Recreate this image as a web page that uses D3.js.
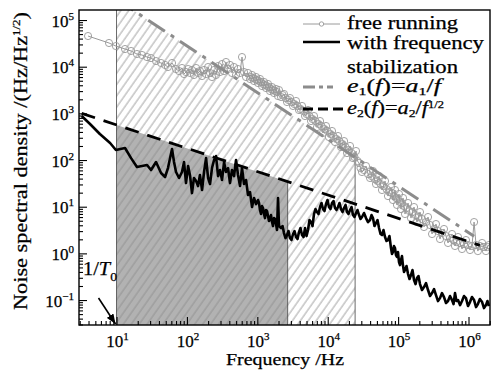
<!DOCTYPE html>
<html>
<head>
<meta charset="utf-8">
<script src="https://cdn.jsdelivr.net/npm/d3@7/dist/d3.min.js"></script>
<style>
  body { margin: 0; background: #fff; }
  svg { display: block; font-family: "Liberation Serif", "Times New Roman", serif; }
  svg text { stroke: #000; stroke-width: 0.25px; }
</style>
</head>
<body>
<svg id="chart" width="500" height="376"></svg>
<script>
// free running laser: [frequency Hz, noise Hz/Hz^1/2]
const freeRunning = [
  [3.94, 45400], [7.82, 32200], [9.8, 27700], [13.2, 23900], [16.1, 21700], [19.5, 18700],
  [23, 17800], [27.1, 16100], [30.9, 15300], [36.4, 13200], [42.9, 12000], [48.9, 10900],
  [53.8, 9840], [61.4, 12000], [70, 8910], [77.3, 8070], [85.1, 9370], [91, 6970],
  [97, 7690], [104, 8910], [111, 7330], [118, 8490], [126, 6640], [135, 9370],
  [144, 7330], [153, 8070], [164, 6310], [175, 8490], [187, 6970], [200, 9840],
  [213, 7330], [227, 6010], [243, 8490], [259, 6640], [277, 10300], [295, 7690],
  [315, 11400], [337, 8070], [359, 12600], [384, 8910], [409, 10900], [437, 7330],
  [467, 9840], [498, 6640], [532, 8910], [568, 7330], [606, 16100], [647, 7690],
  [691, 6010], [738, 7330], [788, 5450], [814, 6010], [841, 6640], [869, 5720],
  [898, 4930], [928, 5450], [959, 6010], [991, 5180], [1023, 4470], [1057, 4930],
  [1092, 5450], [1128, 4700], [1167, 3850], [1205, 4260], [1245, 4700], [1286, 4050],
  [1330, 3490], [1374, 3850], [1419, 4260], [1466, 3660], [1514, 3010], [1564, 3330],
  [1618, 3660], [1670, 3160], [1726, 2730], [1783, 3010], [1845, 3330], [1904, 2870],
  [1968, 2350], [2032, 3160], [2173, 2240], [2282, 2470], [2393, 2600], [2513, 2130],
  [2642, 1750], [2774, 1930], [2911, 2130], [3057, 1750], [3214, 1440], [3375, 1580],
  [3548, 1840], [3725, 1440], [3908, 1180], [4103, 1240], [4315, 1440], [4531, 1120],
  [4764, 877], [5002, 968], [5248, 1180], [5510, 877], [5794, 685], [6084, 757],
  [6383, 877], [6702, 685], [7047, 509], [7399, 592], [7780, 685], [8169, 536],
  [8570, 379], [8999, 461], [9462, 536], [9935, 419], [10420, 311], [10940, 361],
  [11510, 419], [12090, 327], [12700, 243], [13340, 282], [14000, 327], [14700, 255],
  [15450, 190], [16220, 220], [17060, 255], [17910, 190], [18790, 141], [19730, 164],
  [20750, 200], [21790, 141], [22860, 110], [24000, 116], [25230, 156], [26490, 95.3],
  [27860, 86.3], [29250, 67.4], [30690, 55.4], [32780, 61.1], [34990, 74.4], [37370, 50.1],
  [39900, 41.2], [41900, 45.4], [43950, 58.2], [46150, 39.2], [48530, 30.6], [50960, 35.5],
  [53580, 45.4], [56260, 30.6], [59020, 22.8], [61970, 27.7], [65160, 35.5], [68420, 23.9],
  [71780, 16.9], [75370, 20.6], [79250, 26.4], [81950, 19.6], [84530, 13.9], [87320, 16.9],
  [90360, 22.8], [93340, 15.4], [96380, 10.9], [99560, 14.6], [103000, 18.7], [106400, 12.6],
  [109900, 8.91], [113500, 12.0], [117500, 15.4], [121400, 10.3], [125300, 6.97], [131600, 9.37],
  [138400, 12.0], [145300, 8.07], [152400, 5.71], [160000, 7.69], [168300, 9.84], [176700, 6.63],
  [185400, 4.69], [194700, 6.01], [204600, 7.69], [218500, 5.45], [233300, 3.67], [249200, 4.69],
  [266100, 6.01], [284200, 4.05], [303400, 2.60], [324000, 3.33], [345100, 4.25], [368600, 3.01],
  [393600, 2.03], [420400, 2.73], [448700, 3.33], [479200, 2.35], [511700, 1.67], [546500, 2.13],
  [583400, 2.60], [612600, 1.93], [642700, 1.44], [674800, 1.75], [709600, 2.24], [757900, 1.67],
  [809100, 1.24], [864100, 1.58], [920400, 1.93], [983000, 1.51], [1.05e6, 1.18], [1.12e6, 1.44],
  [1.2e6, 4.69], [1.28e6, 1.51], [1.36e6, 1.12], [1.45e6, 1.44], [1.56e6, 1.67], [1.66e6, 1.37],
  [1.77e6, 1.12], [1.86e6, 1.37], [1.95e6, 1.51]
];

// with frequency stabilization
const stabilized = [
  [3.2, 877], [4.2, 592], [5.8, 361], [8.1, 232], [9.8, 164], [13.2, 181], [16.1, 110],
  [19.5, 70.8], [23, 74.4], [27.1, 78.2], [30.9, 61.1], [36.4, 90.6], [42.9, 52.7],
  [48.9, 43.3], [53.8, 67.4], [61.4, 172], [65.6, 90.6], [70, 55.4], [77.3, 41.2],
  [85.1, 55.4], [91, 90.6], [97, 32.1], [104, 74.4], [111, 45.4], [118, 19.6], [126, 41.2],
  [135, 35.5], [144, 27.7], [153, 47.7], [164, 22.8], [175, 55.4], [187, 110], [200, 41.2],
  [213, 30.6], [227, 67.4], [243, 100], [259, 122], [277, 45.4], [295, 61.1], [315, 37.3],
  [337, 90.6], [359, 55.4], [384, 67.4], [409, 32.1], [437, 61.1], [467, 45.4], [498, 100],
  [532, 47.7], [568, 27.7], [606, 67.4], [647, 30.6], [691, 37.3], [738, 17.8], [788, 20.6],
  [841, 9.84], [898, 15.4], [959, 11.4], [1023, 13.9], [1057, 12.0], [1092, 8.49],
  [1128, 6.97], [1167, 10.3], [1205, 9.37], [1245, 6.97], [1286, 5.71], [1330, 8.49],
  [1374, 8.07], [1419, 6.31], [1466, 4.93], [1514, 5.71], [1564, 6.63], [1618, 4.69],
  [1670, 3.85], [1726, 5.71], [1783, 5.45], [1845, 4.25], [1904, 3.16], [1968, 15.4],
  [2032, 3.85], [2173, 3.49], [2282, 3.85], [2393, 2.73], [2513, 2.13], [2642, 2.47],
  [2774, 3.01], [2911, 2.13], [3057, 1.93], [3214, 2.60], [3375, 3.01], [3548, 2.24],
  [3725, 2.03], [3908, 2.86], [4103, 3.49], [4315, 2.47], [4531, 2.24], [4764, 3.49],
  [5002, 2.35], [5248, 3.16], [5510, 5.18], [5794, 4.69], [6084, 3.85], [6383, 6.97],
  [6702, 8.91], [7047, 7.69], [7399, 6.97], [7780, 9.84], [8169, 12.0], [8570, 8.91],
  [8999, 8.07], [9462, 11.4], [9935, 13.9], [10420, 9.84], [10940, 8.91], [11510, 12.0],
  [12090, 13.2], [12700, 9.37], [13340, 8.49], [14000, 9.84], [14700, 12.0], [15450, 8.91],
  [16220, 7.69], [17060, 9.37], [17910, 10.9], [18790, 7.69], [19730, 6.97], [20750, 8.49],
  [21790, 9.84], [22860, 6.63], [24000, 6.01], [25230, 7.33], [26490, 8.49], [27860, 6.63],
  [29250, 5.45], [30690, 6.01], [32780, 7.33], [34990, 5.71], [37370, 4.69], [39900, 5.18],
  [41900, 6.63], [43950, 5.71], [46150, 3.85], [48530, 4.47], [50960, 5.18], [53580, 3.49],
  [56260, 2.60], [59020, 2.47], [61970, 3.16], [65160, 2.24], [68420, 1.84], [71780, 1.93],
  [75370, 2.35], [79250, 1.30], [81950, 0.968], [84530, 1.07], [87320, 1.44], [90360, 1.30],
  [93340, 0.92], [96380, 0.836], [99560, 1.07], [103000, 0.653], [106400, 0.562], [109900, 0.72],
  [113500, 0.877], [117500, 0.536], [121400, 0.398], [125300, 0.44], [131600, 0.536],
  [138400, 0.361], [145300, 0.282], [152400, 0.344], [160000, 0.44], [168300, 0.268],
  [176700, 0.22], [185400, 0.296], [194700, 0.327], [204600, 0.22], [218500, 0.164],
  [233300, 0.19], [249200, 0.231], [266100, 0.164], [284200, 0.122], [303400, 0.141],
  [324000, 0.172], [345100, 0.128], [368600, 0.0952], [393600, 0.110], [420400, 0.141],
  [448700, 0.116], [479200, 0.0863], [511700, 0.0952], [546500, 0.122], [583400, 0.100],
  [612600, 0.082], [642700, 0.141], [674800, 0.0952], [709600, 0.100], [757900, 0.078],
  [809100, 0.0952], [864100, 0.122], [920400, 0.110], [983000, 0.0744], [1.05e6, 0.0906],
  [1.12e6, 0.116], [1.2e6, 0.100], [1.28e6, 0.0708], [1.36e6, 0.082], [1.45e6, 0.105],
  [1.56e6, 0.0906], [1.66e6, 0.0674], [1.77e6, 0.078], [1.86e6, 0.0952], [1.95e6, 0.0744]
];

// fitted asymptotes e1 = a1/f, e2 = a2/f^(1/2)
const a1 = 2.8e6;
const a2 = 1.79e3;
const e1Span = [10, 1.2e6];
const e2Span = [3.2, 1.45e6];

// shaded bands: 1/T0 up to grayEnd (under e2), 1/T0 up to hatchEnd (under e1)
const invT0 = 10;
const grayEnd = 2700;
const hatchEnd = 24500;

const xDecades = [1, 2, 3, 4, 5, 6];
const yDecades = [-1, 0, 1, 2, 3, 4, 5];

const box = { left: 79, right: 490, top: 10, bottom: 325 };

const svg = d3.select('#chart');
const x = d3.scaleLog().domain([2.93, 2.02e6]).range([box.left, box.right]);
const y = d3.scaleLog().domain([0.0292, 1.64e5]).range([box.bottom, box.top]);
const e1 = (f) => a1 / f;
const e2 = (f) => a2 / Math.sqrt(f);

const defs = svg.append('defs');
defs.append('clipPath').attr('id', 'plot-clip')
  .append('rect')
  .attr('x', box.left).attr('y', box.top)
  .attr('width', box.right - box.left).attr('height', box.bottom - box.top);

defs.append('pattern')
  .attr('id', 'hatch')
  .attr('patternUnits', 'userSpaceOnUse')
  .attr('width', 6.5).attr('height', 10)
  .attr('patternTransform', 'rotate(35)')
  .append('line')
  .attr('x1', 1).attr('y1', 0).attr('x2', 1).attr('y2', 10)
  .attr('stroke', '#8a8a8a')
  .attr('stroke-width', 0.8);

defs.append('marker')
  .attr('id', 'arrow-head')
  .attr('viewBox', '0 -4 10 8')
  .attr('refX', 10).attr('refY', 0)
  .attr('markerWidth', 10).attr('markerHeight', 8)
  .attr('markerUnits', 'userSpaceOnUse')
  .attr('orient', 'auto')
  .append('path')
  .attr('d', 'M0,-4L10,0L0,4Z')
  .attr('fill', '#000');

const plot = svg.append('g').attr('clip-path', 'url(#plot-clip)');
const pt = (f, v) => `${x(f)},${y(v)}`;
const yMin = y.domain()[0];

plot.append('polygon')
  .attr('points', [pt(invT0, yMin), pt(invT0, e2(invT0)), pt(grayEnd, e2(grayEnd)), pt(grayEnd, yMin)].join(' '))
  .attr('fill', '#b2b2b2');

plot.append('polygon')
  .attr('points', [pt(invT0, yMin), pt(invT0, e1(invT0)), pt(hatchEnd, e1(hatchEnd)), pt(hatchEnd, yMin)].join(' '))
  .attr('fill', 'url(#hatch)');

const guides = [
  [invT0, y.domain()[1]],
  [grayEnd, e2(grayEnd)],
  [hatchEnd, e1(hatchEnd) * 1.3]
];
plot.selectAll('line.guide')
  .data(guides)
  .join('line')
  .attr('class', 'guide')
  .attr('x1', (d) => x(d[0])).attr('x2', (d) => x(d[0]))
  .attr('y1', box.bottom).attr('y2', (d) => y(d[1]))
  .attr('stroke', '#444')
  .attr('stroke-width', 0.8);

const line = d3.line().x((d) => x(d[0])).y((d) => y(d[1]));

plot.append('path')
  .datum(freeRunning)
  .attr('d', line)
  .attr('fill', 'none')
  .attr('stroke', '#9a9a9a')
  .attr('stroke-width', 1);

plot.selectAll('circle.free')
  .data(freeRunning)
  .join('circle')
  .attr('class', 'free')
  .attr('cx', (d) => x(d[0]))
  .attr('cy', (d) => y(d[1]))
  .attr('r', 3.6)
  .attr('fill', 'none')
  .attr('stroke', '#999')
  .attr('stroke-width', 0.9);

plot.append('path')
  .datum(e1Span.map((f) => [f, e1(f)]))
  .attr('d', line)
  .attr('fill', 'none')
  .attr('stroke', '#8c8c8c')
  .attr('stroke-width', 3)
  .attr('stroke-dasharray', '20,7,4,7');

plot.append('path')
  .datum(stabilized)
  .attr('d', line)
  .attr('fill', 'none')
  .attr('stroke', '#000')
  .attr('stroke-width', 2.6)
  .attr('stroke-linejoin', 'round');

plot.append('path')
  .datum(e2Span.map((f) => [f, e2(f)]))
  .attr('d', line)
  .attr('fill', 'none')
  .attr('stroke', '#000')
  .attr('stroke-width', 2.8)
  .attr('stroke-dasharray', '14,9');

// axes: ticks point inward, minor ticks shorter
const xMajor = xDecades.map((e) => 10 ** e);
const yMajor = yDecades.map((e) => 10 ** e);
const isDecade = (v) => Math.abs(Math.log10(v) - Math.round(Math.log10(v))) < 1e-6;
const xMinor = x.ticks().filter((v) => !isDecade(v));
const yMinor = y.ticks().filter((v) => !isDecade(v));

function styleAxis(g) {
  g.select('.domain').remove();
  g.selectAll('.tick line').attr('stroke', '#000').attr('stroke-width', 1.1);
}

svg.append('g').attr('transform', `translate(0,${box.bottom})`)
  .call(d3.axisBottom(x).tickValues(xMinor).tickSize(-4).tickFormat(''))
  .call(styleAxis);
svg.append('g').attr('transform', `translate(0,${box.bottom})`)
  .call(d3.axisBottom(x).tickValues(xMajor).tickSize(-8).tickFormat(''))
  .call(styleAxis);
svg.append('g').attr('transform', `translate(${box.left},0)`)
  .call(d3.axisLeft(y).tickValues(yMinor).tickSize(-4).tickFormat(''))
  .call(styleAxis);
svg.append('g').attr('transform', `translate(${box.left},0)`)
  .call(d3.axisLeft(y).tickValues(yMajor).tickSize(-8).tickFormat(''))
  .call(styleAxis);

svg.append('rect')
  .attr('x', box.left).attr('y', box.top)
  .attr('width', box.right - box.left).attr('height', box.bottom - box.top)
  .attr('fill', 'none')
  .attr('stroke', '#000')
  .attr('stroke-width', 1.4);

function powerLabel(sel, exp) {
  sel.append('tspan').text('10');
  sel.append('tspan').attr('dy', -7).attr('font-size', 11).text(String(exp).replace('-', '\u2212'));
}

xDecades.forEach((e) => {
  svg.append('text')
    .attr('x', x(10 ** e) + 1).attr('y', 347)
    .attr('text-anchor', 'middle')
    .attr('font-size', 17)
    .call(powerLabel, e);
});

yDecades.forEach((e) => {
  svg.append('text')
    .attr('x', 74).attr('y', y(10 ** e) + 6.5)
    .attr('text-anchor', 'end')
    .attr('font-size', 17)
    .call(powerLabel, e);
});

// the original face is wide (Century-like): stretch to the measured widths
svg.append('text')
  .attr('x', 226).attr('y', 365)
  .attr('font-size', 17)
  .attr('textLength', 118)
  .attr('lengthAdjust', 'spacingAndGlyphs')
  .text('Frequency /Hz');

const yTitle = svg.append('text')
  .attr('transform', 'translate(27,310) rotate(-90)')
  .attr('font-size', 19)
  .attr('textLength', 298)
  .attr('lengthAdjust', 'spacingAndGlyphs');
yTitle.append('tspan').text('Noise spectral density /(Hz/Hz');
yTitle.append('tspan').attr('dy', -7).attr('font-size', 11).text('1/2');
yTitle.append('tspan').attr('dy', 7).text(')');

// 1/T0 annotation
const t0 = svg.append('text')
  .attr('x', 83).attr('y', 275)
  .attr('font-size', 18)
  .attr('textLength', 34)
  .attr('lengthAdjust', 'spacingAndGlyphs');
t0.append('tspan').text('1/');
t0.append('tspan').attr('font-style', 'italic').text('T');
t0.append('tspan').attr('dy', 6).attr('font-size', 12).text('0');

svg.append('line')
  .attr('x1', x(invT0) - 18).attr('y1', box.bottom - 27)
  .attr('x2', x(invT0) - 1).attr('y2', box.bottom - 1)
  .attr('stroke', '#000')
  .attr('stroke-width', 1.6)
  .attr('marker-end', 'url(#arrow-head)');

// legend
const legend = svg.append('g').attr('font-size', 18);
const lx0 = 303, lx1 = 340, tx = 347;

function legendText(yPos, width) {
  return legend.append('text')
    .attr('x', tx).attr('y', yPos)
    .attr('textLength', width)
    .attr('lengthAdjust', 'spacingAndGlyphs');
}

legend.append('line')
  .attr('x1', lx0).attr('x2', lx1).attr('y1', 24).attr('y2', 24)
  .attr('stroke', '#9a9a9a').attr('stroke-width', 1);
legend.append('circle')
  .attr('cx', (lx0 + lx1) / 2).attr('cy', 24).attr('r', 2.2)
  .attr('fill', '#fff').attr('stroke', '#999').attr('stroke-width', 0.9);
legendText(29, 111).text('free running');

legend.append('line')
  .attr('x1', lx0).attr('x2', lx1).attr('y1', 42).attr('y2', 42)
  .attr('stroke', '#000').attr('stroke-width', 2.6);
legendText(49, 137).text('with frequency');
legendText(72.5, 111).text('stabilization');

legend.append('line')
  .attr('x1', lx0).attr('x2', lx1 - 7).attr('y1', 87).attr('y2', 87)
  .attr('stroke', '#8c8c8c').attr('stroke-width', 3)
  .attr('stroke-dasharray', '12,4,4,4');
const e1Text = legendText(91.5, 94);
e1Text.append('tspan').attr('font-style', 'italic').text('e');
e1Text.append('tspan').attr('dy', 3).attr('font-size', 11).text('1');
e1Text.append('tspan').attr('dy', -3).text('(');
e1Text.append('tspan').attr('font-style', 'italic').text('f');
e1Text.append('tspan').text(')=');
e1Text.append('tspan').attr('font-style', 'italic').text('a');
e1Text.append('tspan').attr('dy', 3).attr('font-size', 11).text('1');
e1Text.append('tspan').attr('dy', -3).text('/');
e1Text.append('tspan').attr('font-style', 'italic').text('f');

legend.append('line')
  .attr('x1', lx0).attr('x2', lx1 + 3).attr('y1', 109).attr('y2', 109)
  .attr('stroke', '#000').attr('stroke-width', 2.8)
  .attr('stroke-dasharray', '10,5');
const e2Text = legendText(113.5, 97);
e2Text.append('tspan').attr('font-style', 'italic').text('e');
e2Text.append('tspan').attr('dy', 3).attr('font-size', 11).text('2');
e2Text.append('tspan').attr('dy', -3).text('(');
e2Text.append('tspan').attr('font-style', 'italic').text('f');
e2Text.append('tspan').text(')=');
e2Text.append('tspan').attr('font-style', 'italic').text('a');
e2Text.append('tspan').attr('dy', 3).attr('font-size', 11).text('2');
e2Text.append('tspan').attr('dy', -3).text('/');
e2Text.append('tspan').attr('font-style', 'italic').text('f');
e2Text.append('tspan').attr('dy', -6).attr('font-size', 10).text('1/2');
</script>
</body>
</html>
